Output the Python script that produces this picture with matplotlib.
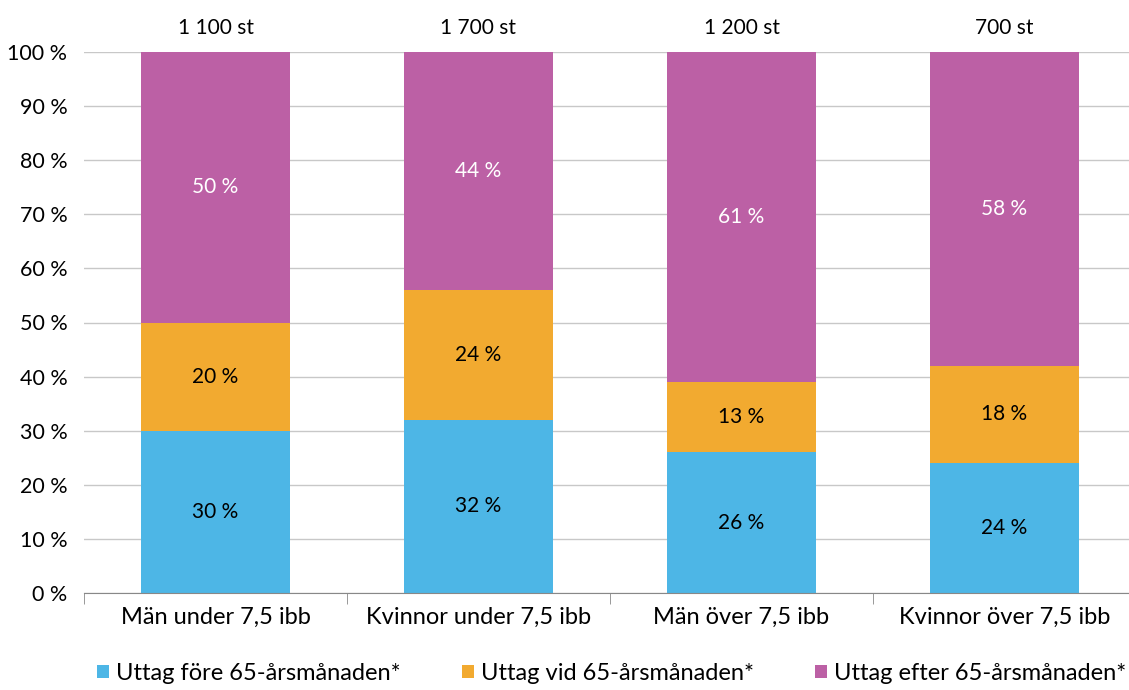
import numpy as np
from matplotlib import pyplot as plt

categories = ['Män under 7,5 ibb', 'Kvinnor under 7,5 ibb', 'Män över 7,5 ibb', 'Kvinnor över 7,5 ibb']
totals = ['1 100 st', '1 700 st', '1 200 st', '700 st']
fore = [30, 32, 26, 24]
vid = [20, 24, 13, 18]
efter = [50, 44, 61, 58]
series_names = ['Uttag före 65-årsmånaden*', 'Uttag vid 65-årsmånaden*', 'Uttag efter 65-årsmånaden*']
colors = ['#4DB6E6', '#F2AA30', '#BC60A5']
label_colors = ['black', 'black', 'white']

plt.rcParams['font.family'] = ['Lato', 'DejaVu Sans']

fig = plt.figure(figsize=(11.29, 6.90), dpi=100)
ax = fig.add_axes([84 / 1129, 97 / 690, 1052 / 1129, 541 / 690])

x = np.arange(len(categories))
bottom = np.zeros(len(categories))
handles = []
for vals, name, col, tcol in zip([fore, vid, efter], series_names, colors, label_colors):
    vals = np.array(vals, dtype=float)
    h = ax.bar(x, vals, 0.57, bottom=bottom, color=col, label=name, zorder=2)
    handles.append(h)
    for xi, b, v in zip(x, bottom, vals):
        ax.text(xi, b + v / 2, f'{int(v)} %', ha='center', va='center',
                color=tcol, fontsize=15)
    bottom += vals

for xi, t in zip(x, totals):
    ax.text(xi, 102.5, t, ha='center', va='bottom', fontsize=15)

ax.set_xlim(-0.5, len(categories) - 0.5)
ax.set_ylim(0, 100)
ax.set_yticks(np.arange(0, 101, 10))
ax.set_yticklabels([f'{v} %' for v in range(0, 101, 10)], fontsize=15.5)
ax.set_xticks(x)
ax.set_xticklabels(categories, fontsize=17)
ax.tick_params(axis='x', length=0, pad=10)
ax.tick_params(axis='y', length=0, pad=12)
ax.set_xticks(np.arange(-0.5, len(categories), 1), minor=True)
ax.tick_params(axis='x', which='minor', length=8, color='#888888')
ax.grid(axis='y', color='#c8c8c8', linewidth=1, zorder=0)
for s in ['left', 'right', 'top']:
    ax.spines[s].set_visible(False)
ax.spines['bottom'].set_color('#888888')

fig.legend(handles=handles, loc='lower center', bbox_to_anchor=(0.542, -0.022), ncol=3,
           frameon=False, fontsize=17, handlelength=0.5, handleheight=0.5,
           handletextpad=0.3, columnspacing=2.6)

plt.savefig('out.png', dpi=100)
